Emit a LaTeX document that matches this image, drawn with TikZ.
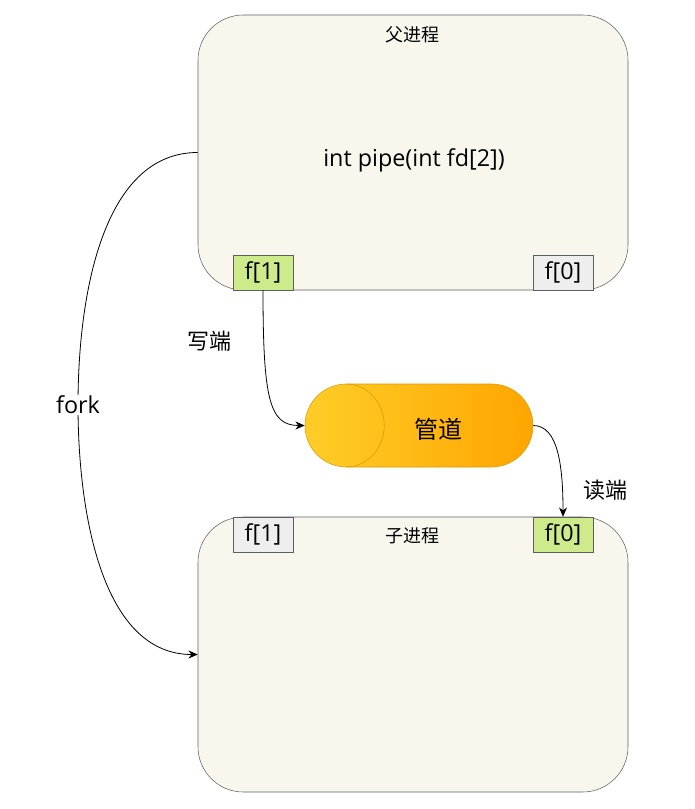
\documentclass[tikz,border=0pt]{standalone}
\usepackage{fontspec}
\setmainfont{Open Sans}
\newfontfamily\cjk{Noto Sans CJK SC}
\usetikzlibrary{shapes.misc,arrows.meta}
\definecolor{procfill}{HTML}{F9F7ED}
\definecolor{procline}{HTML}{5E5E5E}
\definecolor{fdgreen}{HTML}{CDEB8B}
\definecolor{fdgray}{HTML}{EEEEEE}
\definecolor{pipeleft}{HTML}{FFCD28}
\definecolor{piperight}{HTML}{FFA500}
\definecolor{pipeline}{HTML}{D79B00}

\begin{document}
\begin{tikzpicture}[x=0.75pt,y=-0.75pt,
    proc/.style={draw=procline, fill=procfill, rounded corners=34pt,
        minimum width=322.5pt, minimum height=206.25pt, inner sep=0pt},
    fdbox/.style={draw=procline, minimum width=45pt, minimum height=26.25pt,
        inner sep=0pt, font=\fontsize{17.5}{20}\selectfont},
    lbl/.style={inner sep=1pt, font=\fontsize{17.5}{20}\selectfont},
    cjklbl/.style={inner sep=1pt, font=\cjk\fontsize{16.5}{19}\selectfont},
    link/.style={draw=black, line width=0.6pt, -{Stealth[length=7pt,width=6pt]}}]
    \useasboundingbox (0,0) rectangle (694,809);

    % parent and child processes
    \node[proc] (parent) at (413,152.5) {};
    \node[proc] (child) at (413,654.5) {};

    \node[cjklbl, font=\cjk\fontsize{13.5}{16}\selectfont] (ptitle) at (412,35) {父进程};
    \node[lbl] (call) at (414,160) {int pipe(int fd[2])};
    \node[cjklbl, font=\cjk\fontsize{13.5}{16}\selectfont] (ctitle) at (412,536) {子进程};

    % file descriptors
    \node[fdbox, fill=fdgreen] (pf1) at (263,272.5) {f[1]};
    \node[fdbox, fill=fdgray] (pf0) at (563,272.5) {f[0]};
    \node[fdbox, fill=fdgray] (cf1) at (263,534.5) {f[1]};
    \node[fdbox, fill=fdgreen] (cf0) at (563,534.5) {f[0]};

    % the pipe
    \node[rounded rectangle, draw=pipeline, left color=pipeleft, right color=piperight,
        minimum width=171pt, minimum height=62.25pt, inner sep=0pt] (pipe) at (419,425.5) {};
    \draw[pipeline] ([shift={(41.5,-41.5)}]pipe.west)
        arc[start angle=-90, end angle=90, x radius=38, y radius=41.5];
    \node[cjklbl, font=\cjk\fontsize{18}{21}\selectfont] (pipetext) at (438,429) {管道};

    % connectors
    \draw[link] (pf1.south) .. controls +(0,110) and +(-35,0) .. (pipe.west);
    \draw[link] (pipe.east) .. controls +(25,0) and +(0,-50) .. (cf0.north);
    \coordinate (forkbend) at (78,405);
    \draw[link] (parent.west) .. controls +(-95,0) and +(0,-110) .. (forkbend)
        .. controls +(0,110) and +(-95,0) .. (child.west);

    \node[lbl, fill=white] (fork) at (forkbend) {fork};
    \node[cjklbl] (wend) at (209,341) {写端};
    \node[cjklbl] (rend) at (605,490) {读端};
\end{tikzpicture}
\end{document}
